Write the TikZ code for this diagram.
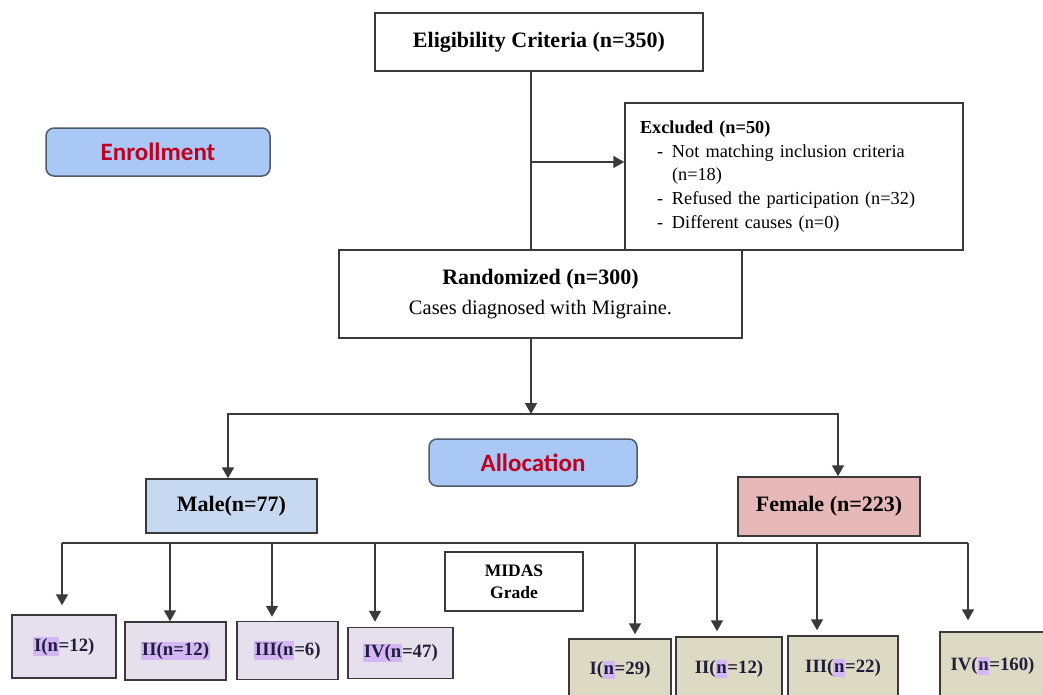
\documentclass[tikz,border=0pt]{standalone}
\usepackage{fontspec}
\setmainfont{Liberation Serif}
\newfontfamily\lblfont{Carlito}
\usetikzlibrary{arrows.meta}
\definecolor{lncol}{HTML}{3A3A3A}
\definecolor{lblborder}{HTML}{4F5A6B}
\definecolor{lblfill}{HTML}{A9C8F5}
\definecolor{lbltext}{HTML}{C00020}
\definecolor{malefill}{HTML}{C6D9F1}
\definecolor{femfill}{HTML}{E6B9B8}
\definecolor{lfill}{HTML}{E5E0EC}
\definecolor{rfill}{HTML}{DDDAC3}
\definecolor{hlc}{HTML}{D4B6F4}
\definecolor{gtext}{HTML}{1E1E3C}
\newcommand{\hlt}[1]{{\setlength{\fboxsep}{0.6pt}\colorbox{hlc}{\vphantom{(}#1}}}
\newcommand{\dashitem}{\makebox[32pt][l]{\hspace*{17pt}-}}
\begin{document}
\begin{tikzpicture}[x=1pt,y=-1pt,
  box/.style={draw=lncol, line width=1.5pt, inner sep=0pt, align=center},
  lbl/.style={draw=lblborder, line width=1.5pt, rounded corners=8pt, fill=lblfill,
    text=lbltext, inner sep=0pt, font=\lblfont\bfseries\fontsize{25}{30}\selectfont},
  gbox/.style={box, text=gtext, font=\bfseries\fontsize{18.8}{22}\selectfont},
  conn/.style={draw=lncol, line width=1.6pt},
  arr/.style={draw=lncol, line width=1.6pt, -{Triangle[width=12pt,length=11pt]}}]
\clip (0,0) rectangle (1043,694);
\fill[white] (0,0) rectangle (1043,694);

% main boxes
\node[box, minimum width=328pt, minimum height=58pt,
  font=\bfseries\fontsize{22}{26}\selectfont] (elig) at (539,42) {Eligibility Criteria (n=350)};
\node[box, minimum width=338pt, minimum height=147pt, text width=308pt, align=left,
  font=\fontsize{18.3}{23.7}\selectfont] (excl) at (794,176.5)
  {\textbf{Excluded (n=50)}\\
   \dashitem Not matching inclusion criteria\\
   \hspace*{32pt}(n=18)\\
   \dashitem Refused the participation (n=32)\\
   \dashitem Different causes (n=0)};
\node[box, minimum width=403pt, minimum height=88pt,
  font=\fontsize{20.5}{30}\selectfont] (rand) at (540.5,294)
  {{\bfseries\fontsize{22}{30}\selectfont Randomized (n=300)}\\ Cases diagnosed with Migraine.};

% stage labels
\node[lbl, minimum width=224pt, minimum height=48pt] (enroll) at (158,152) {Enrollment};
\node[lbl, minimum width=208pt, minimum height=47pt] (alloc) at (533,462.5) {Allocation};

% gender
\node[box, fill=malefill, minimum width=171pt, minimum height=54pt,
  font=\bfseries\fontsize{22}{26}\selectfont] (male) at (231.5,506) {Male(n=77)};
\node[box, fill=femfill, minimum width=182pt, minimum height=59pt,
  font=\bfseries\fontsize{22}{26}\selectfont] (female) at (829,506.5) {Female (n=223)};

% MIDAS
\node[box, minimum width=138pt, minimum height=59pt,
  font=\bfseries\fontsize{17.5}{22}\selectfont] (midas) at (514,581.5) {MIDAS\\Grade};

% bottom left grades
\node[gbox, fill=lfill, minimum width=104pt, minimum height=63pt] (L1) at (64,646.5) {\hlt{I(n}=12)};
\node[gbox, fill=lfill, minimum width=101pt, minimum height=58pt] (L2) at (175.5,651) {\hlt{II(n=12)}};
\node[gbox, fill=lfill, minimum width=101pt, minimum height=58pt] (L3) at (287.5,650.5) {\hlt{III(n}=6)};
\node[gbox, fill=lfill, minimum width=105pt, minimum height=51pt] (L4) at (400.5,653) {\hlt{IV(n}=47)};

% bottom right grades (run off the lower edge)
\node[gbox, fill=rfill, minimum width=102pt, minimum height=62pt] (R1) at (620,670) {\raisebox{2pt}{I(\hlt{n}=29)}};
\node[gbox, fill=rfill, minimum width=106pt, minimum height=64pt] (R2) at (729,669) {\raisebox{2pt}{II(\hlt{n}=12)}};
\node[gbox, fill=rfill, minimum width=110pt, minimum height=64pt] (R3) at (843,668) {\raisebox{2pt}{III(\hlt{n}=22)}};
\node[gbox, fill=rfill, minimum width=105pt, minimum height=70pt] (R4) at (992.5,667) {\raisebox{6pt}{IV(\hlt{n}=160)}};

% connectors: top
\coordinate (sp1) at (531,162);
\draw[conn] (sp1 |- elig.south) -- (sp1 |- rand.north);
\draw[arr] (sp1) -- (sp1 -| excl.west);

% randomized to gender split
\coordinate (sp2) at (531,414);
\draw[arr] (sp2 |- rand.south) -- (sp2);
\draw[arr] (sp2) -| ([xshift=-3.5pt]male.north);
\draw[arr] (sp2) -| ([xshift=9pt]female.north);

% grade bus
\coordinate (t1) at (62,543);
\coordinate (t2) at (170,543);
\coordinate (t3) at (272,543);
\coordinate (t4) at (375,543);
\coordinate (t5) at (635,543);
\coordinate (t6) at (717,543);
\coordinate (t7) at (817,543);
\coordinate (t8) at (968,543);
\draw[conn] (t1) -- (t8);
\draw[arr, shorten >=9pt] (t1) -- (t1 |- L1.north);
\draw[arr] (t2) -- (t2 |- L2.north);
\draw[arr, shorten >=4pt] (t3) -- (t3 |- L3.north);
\draw[arr, shorten >=5pt] (t4) -- (t4 |- L4.north);
\draw[arr, shorten >=4pt] (t5) -- (t5 |- R1.north);
\draw[arr, shorten >=5pt] (t6) -- (t6 |- R2.north);
\draw[arr, shorten >=5pt] (t7) -- (t7 |- R3.north);
\draw[arr, shorten >=11pt] (t8) -- (t8 |- R4.north);
\end{tikzpicture}
\end{document}
